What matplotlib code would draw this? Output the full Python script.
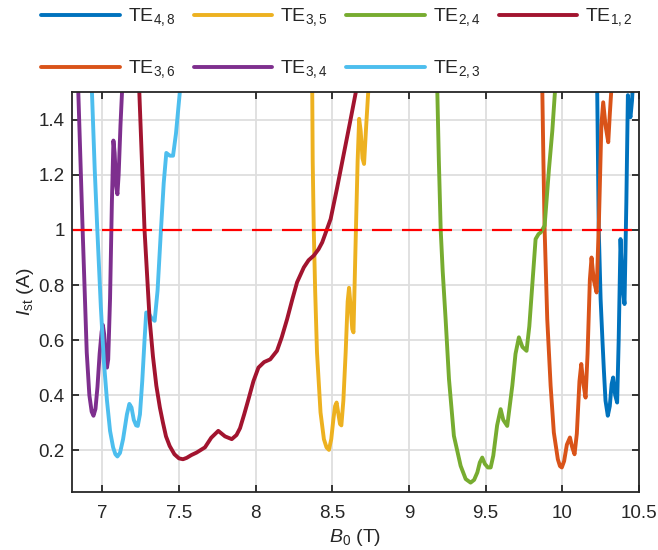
import matplotlib
matplotlib.use("Agg")
import matplotlib.pyplot as plt
from matplotlib.ticker import FormatStrFormatter

plt.rcParams['font.family'] = ['Liberation Sans', 'DejaVu Sans']
plt.rcParams['mathtext.fontset'] = 'custom'
plt.rcParams['mathtext.rm'] = 'Liberation Sans'
plt.rcParams['mathtext.it'] = 'Liberation Sans:italic'
plt.rcParams['mathtext.default'] = 'regular'

# B0 (T) / Ist (A), one pair of lists per mode
b_te48 = [10.226, 10.228, 10.233, 10.238, 10.25, 10.262, 10.271, 10.282, 10.297, 10.31,
          10.322, 10.332, 10.345, 10.358, 10.368, 10.38, 10.392, 10.406, 10.418, 10.428,
          10.437, 10.445, 10.455, 10.467]
i_te48 = [1.6, 1.5, 1.25, 1.0, 0.75, 0.6, 0.495, 0.38, 0.325, 0.36,
          0.44, 0.464, 0.40, 0.373, 0.6, 0.967, 0.80, 0.731, 1.1, 1.49,
          1.43, 1.41, 1.47, 1.6]

b_te36 = [9.867, 9.870, 9.877, 9.885, 9.902, 9.924, 9.945, 9.971, 9.985, 9.997,
          10.012, 10.03, 10.05, 10.065, 10.08, 10.095, 10.112, 10.124, 10.138, 10.152,
          10.165, 10.18, 10.191, 10.205, 10.224, 10.24, 10.255, 10.267, 10.282, 10.3,
          10.31, 10.319, 10.323]
i_te36 = [1.6, 1.5, 1.25, 1.0, 0.676, 0.434, 0.264, 0.167, 0.142, 0.137,
          0.16, 0.22, 0.246, 0.21, 0.185, 0.26, 0.45, 0.513, 0.44, 0.391,
          0.55, 0.82, 0.90, 0.82, 0.773, 1.05, 1.38, 1.464, 1.38, 1.319,
          1.42, 1.5, 1.6]

b_te35 = [8.366, 8.369, 8.372, 8.379, 8.388, 8.40, 8.423, 8.445, 8.462, 8.478,
          8.493, 8.507, 8.518, 8.528, 8.54, 8.55, 8.559, 8.572, 8.587, 8.60,
          8.609, 8.62, 8.63, 8.638, 8.653, 8.665, 8.675, 8.685, 8.697, 8.707,
          8.72, 8.734, 8.738]
i_te35 = [1.6, 1.5, 1.25, 1.0, 0.78, 0.555, 0.337, 0.24, 0.21, 0.201,
          0.24, 0.313, 0.36, 0.373, 0.33, 0.295, 0.29, 0.38, 0.555, 0.74,
          0.79, 0.72, 0.64, 0.628, 0.98, 1.25, 1.404, 1.36, 1.26, 1.24,
          1.37, 1.5, 1.6]

b_te34 = [6.838, 6.843, 6.87, 6.898, 6.915, 6.93, 6.942, 6.955, 6.968, 6.982,
          6.995, 7.003, 7.012, 7.022, 7.03, 7.038, 7.05, 7.062, 7.072, 7.08,
          7.09, 7.098, 7.106, 7.118, 7.128, 7.132]
i_te34 = [1.6, 1.5, 1.02, 0.555, 0.40, 0.34, 0.325, 0.35, 0.43, 0.55,
          0.63, 0.655, 0.62, 0.53, 0.50, 0.53, 0.75, 1.1, 1.325, 1.28,
          1.16, 1.13, 1.2, 1.38, 1.5, 1.6]

b_te24 = [9.182, 9.185, 9.195, 9.207, 9.22, 9.239, 9.261, 9.293, 9.337, 9.37,
          9.402, 9.425, 9.446, 9.462, 9.478, 9.495, 9.515, 9.533, 9.55, 9.575,
          9.598, 9.615, 9.641, 9.674, 9.695, 9.717, 9.74, 9.767, 9.785, 9.804,
          9.826, 9.845, 9.859, 9.885, 9.913, 9.935, 9.952, 9.96]
i_te24 = [1.6, 1.5, 1.25, 1.0, 0.85, 0.676, 0.458, 0.252, 0.143, 0.095,
          0.082, 0.092, 0.119, 0.155, 0.173, 0.15, 0.137, 0.137, 0.18, 0.29,
          0.349, 0.31, 0.288, 0.434, 0.55, 0.61, 0.575, 0.561, 0.65, 0.797,
          0.967, 0.985, 0.991, 1.016, 1.22, 1.36, 1.5, 1.57]

b_te23 = [6.928, 6.932, 6.95, 6.967, 6.99, 7.01, 7.03, 7.05, 7.07, 7.085,
          7.098, 7.115, 7.135, 7.16, 7.176, 7.19, 7.205, 7.22, 7.231, 7.245,
          7.26, 7.275, 7.286, 7.30, 7.32, 7.341, 7.36, 7.38, 7.40, 7.417,
          7.44, 7.461, 7.48, 7.505, 7.51]
i_te23 = [1.6, 1.5, 1.22, 1.0, 0.72, 0.52, 0.38, 0.27, 0.21, 0.185,
          0.177, 0.19, 0.24, 0.33, 0.368, 0.355, 0.31, 0.29, 0.288, 0.33,
          0.45, 0.6, 0.70, 0.70, 0.68, 0.67, 0.78, 0.98, 1.17, 1.28,
          1.27, 1.27, 1.35, 1.5, 1.6]

b_te12 = [7.235, 7.241, 7.26, 7.275, 7.308, 7.33, 7.352, 7.375, 7.395, 7.415,
          7.439, 7.47, 7.5, 7.526, 7.55, 7.58, 7.614, 7.669, 7.71, 7.756,
          7.80, 7.844, 7.875, 7.898, 7.925, 7.953, 7.985, 8.018, 8.055, 8.095,
          8.139, 8.17, 8.205, 8.24, 8.27, 8.314, 8.345, 8.379, 8.41, 8.434,
          8.46, 8.489, 8.53, 8.576, 8.615, 8.653, 8.665]
i_te12 = [1.6, 1.5, 1.22, 1.0, 0.676, 0.54, 0.434, 0.355, 0.30, 0.25,
          0.215, 0.185, 0.17, 0.167, 0.172, 0.182, 0.191, 0.21, 0.245, 0.27,
          0.25, 0.24, 0.255, 0.28, 0.33, 0.385, 0.45, 0.50, 0.52, 0.53,
          0.561, 0.61, 0.676, 0.75, 0.81, 0.864, 0.89, 0.907, 0.93, 0.955,
          0.995, 1.04, 1.15, 1.28, 1.39, 1.5, 1.54]

# drawing order = legend order (column-major, 2 rows)
modes = [
    (b_te48, i_te48, r'TE$_{4,8}$', '#0072BD'),
    (b_te36, i_te36, r'TE$_{3,6}$', '#D95319'),
    (b_te35, i_te35, r'TE$_{3,5}$', '#EDB120'),
    (b_te34, i_te34, r'TE$_{3,4}$', '#7E2F8E'),
    (b_te24, i_te24, r'TE$_{2,4}$', '#77AC30'),
    (b_te23, i_te23, r'TE$_{2,3}$', '#4DBEEE'),
    (b_te12, i_te12, r'TE$_{1,2}$', '#A2142F'),
]

fig = plt.figure(figsize=(6.58, 5.5), dpi=100)
ax = fig.add_axes([0.109, 0.105, 0.862, 0.728])

for b, i, lab, c in modes:
    ax.plot(b, i, color=c, lw=2.8, label=lab, solid_capstyle='round',
            solid_joinstyle='round')

ax.axhline(1.0, color='#FF0000', lw=1.6, dashes=(9, 4.5))

ax.set_xlim(6.8, 10.5)
ax.set_ylim(0.047, 1.502)
ax.set_xticks([7, 7.5, 8, 8.5, 9, 9.5, 10, 10.5])
ax.set_yticks([0.2, 0.4, 0.6, 0.8, 1.0, 1.2, 1.4])
ax.xaxis.set_major_formatter(FormatStrFormatter('%g'))
ax.yaxis.set_major_formatter(FormatStrFormatter('%g'))
ax.grid(True, color='#DEDEDE', lw=1.3)
ax.set_axisbelow(True)
ax.tick_params(direction='in', top=True, right=True, length=5, width=1.3,
               labelsize=13.5, labelcolor='#262626', color='#262626')
ax.tick_params(axis='x', pad=9)
ax.tick_params(axis='y', pad=5)
for s in ax.spines.values():
    s.set_linewidth(1.3)
    s.set_color('#262626')

ax.set_xlabel(r'$\mathit{B}_{0}$ (T)', fontsize=14, color='#262626', labelpad=4)
ax.set_ylabel(r'$\mathit{I}_{st}$ (A)', fontsize=14, color='#262626', labelpad=2)

fig.legend(loc='upper left', bbox_to_anchor=(0.036, 1.02), ncol=4, frameon=False,
           fontsize=14, handlelength=4.05, handletextpad=0.4, columnspacing=0.93,
           labelspacing=1.55, labelcolor='#262626')

fig.savefig('out.png', dpi=100)
